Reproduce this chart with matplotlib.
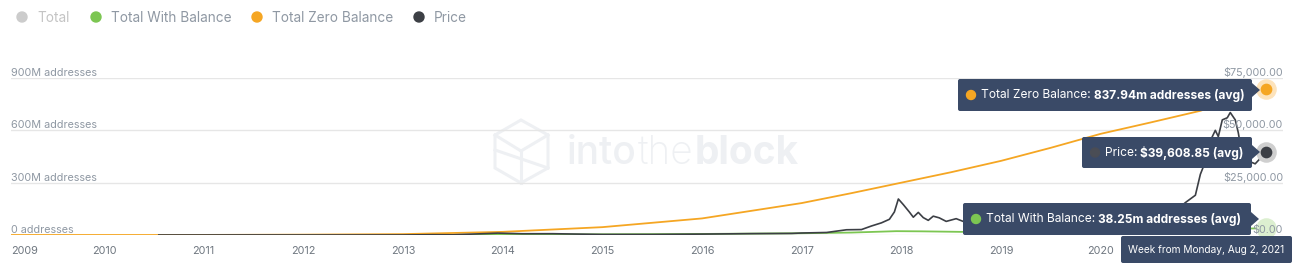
import numpy as np
import matplotlib.pyplot as plt
from matplotlib.patches import FancyBboxPatch, Polygon, Circle

plt.rcParams['font.family'] = ['Inter', 'DejaVu Sans']

# time axis in decimal years
zero_t = [2009.07, 2010.5, 2011.0, 2012.0, 2013.0, 2014.0, 2015.0, 2016.0, 2017.0,
          2017.5, 2018.0, 2018.5, 2019.0, 2019.5, 2020.0, 2020.5, 2021.0, 2021.3, 2021.66]
zero_v = [0, 0, 0.5, 2, 5, 18, 45, 95, 183,
          240, 300, 360, 425, 500, 580, 645, 712, 770, 837.94]

bal_t = [2013.5, 2014.0, 2015.0, 2016.0, 2017.0, 2017.5, 2017.95, 2018.2, 2018.6,
         2019.0, 2019.5, 2020.0, 2020.5, 2021.0, 2021.66]
bal_v = [0.5, 2, 4, 6, 10, 14, 22, 21, 18, 19, 22, 25, 29, 34, 38.25]

price_t = [2010.55, 2011.0, 2011.45, 2011.9, 2012.5, 2013.0, 2013.3, 2013.5, 2013.85, 2013.95,
           2014.2, 2014.5, 2015.0, 2015.5, 2016.0, 2016.5, 2016.9, 2017.0, 2017.25, 2017.45,
           2017.6, 2017.7, 2017.8, 2017.88, 2017.93, 2017.97, 2018.02, 2018.08, 2018.12, 2018.17,
           2018.22, 2018.27, 2018.32, 2018.38, 2018.45, 2018.55, 2018.62, 2018.75, 2018.88, 2018.96,
           2019.1, 2019.25, 2019.4, 2019.5, 2019.6, 2019.75, 2019.95, 2020.1, 2020.2, 2020.35,
           2020.5, 2020.6, 2020.75, 2020.85, 2020.95, 2021.0, 2021.05, 2021.1, 2021.15, 2021.18,
           2021.22, 2021.27, 2021.3, 2021.35, 2021.38, 2021.42, 2021.46, 2021.5, 2021.55, 2021.66]
price_v = [0.07, 0.3, 18, 3, 7, 13, 140, 100, 700, 900,
           600, 620, 250, 250, 430, 650, 750, 950, 1200, 2500,
           2600, 4300, 5800, 7500, 11000, 17200, 14500, 11000, 8500, 10800,
           8300, 7000, 9000, 8200, 6500, 7800, 6500, 6500, 4200, 3600,
           3600, 5000, 8000, 11500, 10000, 8300, 7200, 9600, 5500, 8800,
           9300, 11600, 11300, 15500, 19000, 29000, 35000, 45000, 50000, 47000,
           55000, 56000, 58500, 55000, 49000, 38000, 37000, 35000, 34000, 39608.85]

years = list(range(2010, 2021))
left_ticks = [0, 300, 600, 900]
left_labels = ['0 addresses', '300M addresses', '600M addresses', '900M addresses']
right_ticks = [0, 25000, 50000, 75000]
right_labels = ['$0.00', '$25,000.00', '$50,000.00', '$75,000.00']

c_total = '#cccccc'
c_bal = '#7cc652'
c_zero = '#f5a623'
c_price = '#3c3f45'
c_text = '#8f98a3'
c_grid = '#e6e6e6'
c_tip = '#3a4a67'

W, H = 1300, 278
fig = plt.figure(figsize=(W / 100, H / 100), dpi=100)
renderer = fig.canvas.get_renderer()

# watermark (behind everything)
wm = '#eef0f3'
ov0 = fig.add_axes([0, 0, 1, 1], zorder=-1)
ov0.set_xlim(0, W)
ov0.set_ylim(H, 0)
ov0.axis('off')
hexp = [(521, 120), (548, 135), (548, 168), (521, 183), (495, 168), (495, 135)]
ov0.add_patch(Polygon(hexp, closed=True, fill=False, ec=wm, lw=2.2))
ov0.plot([495, 521, 548], [135, 151, 135], color=wm, lw=2.2)
ov0.plot([521, 521], [151, 183], color=wm, lw=2.2)
ov0.plot([495, 548], [150, 168], color=wm, lw=2.2)
wx = 567
for part, fw in [('into', 'medium'), ('the', 'light'), ('block', 'bold')]:
    t = ov0.text(wx, 153, part, fontsize=28, color=wm, fontweight=fw, va='center')
    wx += t.get_window_extent(renderer).width + 1

x0, x1 = 11, 1283
yb, yt = 235, 78
ax = fig.add_axes([x0 / W, 1 - yb / H, (x1 - x0) / W, (yb - yt) / H])
ax.patch.set_visible(False)
ax.set_xlim(2009.067, 2009.067 + (x1 - x0) / 99.67)
ax.set_ylim(0, 900)
for s in ax.spines.values():
    s.set_visible(False)
ax.set_xticks([])
ax.set_yticks([])
for v in left_ticks:
    ax.axhline(v, color=c_grid, lw=1, zorder=0)

ax2 = ax.twinx()
ax2.patch.set_visible(False)
ax2.set_ylim(0, 75000)
ax2.set_xlim(ax.get_xlim())
for s in ax2.spines.values():
    s.set_visible(False)
ax2.set_yticks([])

ax.plot(zero_t, zero_v, color=c_zero, lw=1.3, zorder=2)
ax.plot(bal_t, bal_v, color=c_bal, lw=1.3, zorder=3)
ax2.plot(price_t, price_v, color=c_price, lw=1.2, zorder=3)

# hover markers at last points
ax.scatter([zero_t[-1]], [zero_v[-1]], s=190, color='#fde3bb', zorder=5, clip_on=False)
ax.scatter([zero_t[-1]], [zero_v[-1]], s=55, color=c_zero, zorder=6, clip_on=False)
ax.scatter([bal_t[-1]], [bal_v[-1]], s=190, color='#dcefd0', zorder=5, clip_on=False)
ax2.scatter([price_t[-1]], [price_v[-1]], s=190, color='#cfcfcf', zorder=5, clip_on=False)
ax2.scatter([price_t[-1]], [price_v[-1]], s=55, color=c_price, zorder=6, clip_on=False)

# axis labels
for v, lab in zip(left_ticks, left_labels):
    ax.text(0, v, lab, transform=ax.get_yaxis_transform(), fontsize=7.8,
            color=c_text, ha='left', va='bottom')
for v, lab in zip(right_ticks, right_labels):
    ax2.text(1, v, lab, transform=ax2.get_yaxis_transform(), fontsize=7.8,
             color=c_text, ha='right', va='bottom')
ylab = -16 / (yb - yt)
for y in years:
    ax.text(y, ylab, str(y), transform=ax.get_xaxis_transform(),
            fontsize=7.8, color='#6f7780', ha='center', va='center')
ax.text(2009.067, ylab, '2009', transform=ax.get_xaxis_transform(),
        fontsize=7.8, color='#6f7780', ha='left', va='center')

# overlay for legend and tooltips
ov = fig.add_axes([0, 0, 1, 1], zorder=10)
ov.set_xlim(0, W)
ov.set_ylim(H, 0)
ov.axis('off')

leg = [('Total', c_total, '#c4c4c4', 22), ('Total With Balance', c_bal, c_text, 96),
       ('Total Zero Balance', c_zero, c_text, 257), ('Price', c_price, c_text, 419)]
for name, mc, tc, lx in leg:
    ov.add_patch(Circle((lx, 17), 5, color=mc))
    ov.text(lx + 15, 17.5, name, fontsize=9.8, color=tc, va='center', ha='left')


def tooltip(bx0, by0, bx1, by1, ty, dot_c, label, value):
    ov.add_patch(FancyBboxPatch((bx0, by0), bx1 - bx0, by1 - by0,
                                boxstyle='round,pad=0,rounding_size=2', fc=c_tip, ec='none'))
    ov.add_patch(Polygon([(bx1, ty - 7), (bx1 + 8, ty), (bx1, ty + 7)], fc=c_tip, ec='none'))
    cy = (by0 + by1) / 2
    ov.add_patch(Circle((bx0 + 13, cy), 4.5, color=dot_c))
    t1 = ov.text(bx0 + 23, cy + 0.5, label, fontsize=8.6, color='white', va='center')
    bb = t1.get_window_extent(renderer)
    ov.text(bx0 + 23 + bb.width + 3, cy + 0.5, value, fontsize=8.6, color='white',
            fontweight='bold', va='center')


tooltip(958, 79, 1252, 111, 90, c_zero, 'Total Zero Balance:', '837.94m addresses (avg)')
tooltip(1082, 137, 1252, 168, 152, '#4a4d55', 'Price:', '$39,608.85 (avg)')
tooltip(963, 203, 1251, 235, 219, c_bal, 'Total With Balance:', '38.25m addresses (avg)')

ov.add_patch(FancyBboxPatch((1121, 236), 171, 27, boxstyle='round,pad=0,rounding_size=2',
                            fc=c_tip, ec='none'))
ov.text(1206, 250, 'Week from Monday, Aug 2, 2021', fontsize=7.3, color='white',
        ha='center', va='center')

fig.savefig('out.png', dpi=100)
